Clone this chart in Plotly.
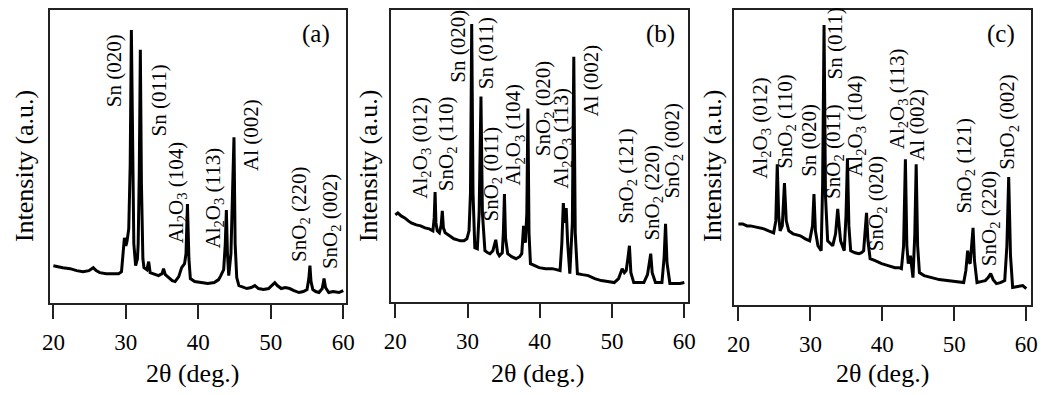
import plotly.graph_objects as go

# ---------------- data (2theta in deg., intensity in arbitrary units) ----------------
theta_a = [20.0, 20.6, 21.3, 22.3, 23.2, 24.1, 24.9, 25.5, 25.9, 26.4, 27.3, 28.2, 29.0, 29.4, 29.65,
           29.8, 30.0, 30.15, 30.4, 30.6, 30.76, 30.92, 31.1, 31.35, 31.6, 31.7, 31.85, 32.0, 32.15,
           32.35, 32.5, 32.9, 33.15, 33.35, 33.8, 34.5, 35.0, 35.2, 35.45, 35.9, 36.4, 36.8, 37.3,
           37.7, 38.1, 38.3, 38.5, 38.7, 38.9, 39.5, 40.4, 41.3, 42.2, 42.8, 43.1, 43.5, 43.72, 43.87,
           44.02, 44.2, 44.5, 44.75, 44.92, 45.08, 45.3, 45.6, 46.2, 46.7, 47.3, 47.8, 48.3, 49.0,
           49.7, 50.3, 50.55, 50.9, 51.45, 52.0, 52.6, 53.2, 53.9, 54.5, 55.0, 55.25, 55.4, 55.55,
           55.8, 56.2, 56.65, 57.1, 57.35, 57.55, 58.0, 58.6, 59.4, 60.0]
int_a = [38, 37, 36, 35, 33, 32, 33, 36, 33, 31, 30, 30, 30, 32, 50,
         66, 58, 62, 75, 140, 275, 140, 60, 38, 45, 60, 130, 255, 120,
         45, 36, 34, 42, 31, 30, 28, 30, 35, 29, 26, 23, 22, 27,
         36, 40, 50, 100, 45, 25, 22, 21, 20, 21, 24, 28, 34, 60, 94,
         50, 28, 50, 120, 167, 60, 26, 18, 16, 15, 16, 18, 15, 14,
         15, 19, 21, 18, 15, 16, 15, 13, 11, 12, 14, 25, 38, 22,
         14, 12, 11, 15, 25, 16, 11, 12, 11, 13]

theta_b = [20.0, 20.35, 20.8, 21.3, 21.8, 22.2, 22.9, 23.5, 24.1, 24.7, 25.2, 25.38, 25.5, 25.62,
           25.8, 26.1, 26.35, 26.5, 26.65, 26.9, 27.5, 28.1, 28.6, 29.0, 29.5, 29.9, 30.2, 30.4,
           30.57, 30.75, 31.0, 31.35, 31.6, 31.85, 32.05, 32.4, 32.8, 33.1, 33.5, 33.9, 34.15, 34.4,
           34.8, 34.95, 35.1, 35.25, 35.55, 36.1, 36.7, 37.2, 37.5, 37.75, 38.0, 38.2, 38.35, 38.5,
           38.7, 39.3, 39.9, 40.8, 41.7, 42.3, 42.8, 43.05, 43.25, 43.45, 43.65, 43.85, 44.15,
           44.5, 44.7, 44.9, 45.2, 45.9, 46.7, 47.6, 48.5, 49.4, 50.3, 50.9, 51.4, 51.7, 51.95,
           52.2, 52.4, 52.6, 53.0, 53.7, 54.4, 54.9, 55.2, 55.35, 55.55, 56.0, 56.5, 56.9, 57.2,
           57.4, 57.6, 58.0, 58.7, 59.4, 60.0]
int_b = [88, 90, 87, 85, 82, 80, 78, 77, 75, 74, 72, 85, 111, 80,
         72, 70, 78, 92, 75, 70, 67, 64, 63, 62, 62, 64, 72, 110,
         280, 110, 55, 54, 90, 207, 90, 52, 50, 49, 52, 63, 50, 47,
         50, 70, 109, 65, 49, 46, 44, 46, 49, 77, 60, 90, 195, 70,
         39, 37, 35, 34, 34, 33, 32, 60, 100, 80, 95, 60, 29,
         80, 247, 70, 29, 28, 27, 24, 22, 21, 20, 24, 34, 30, 32,
         45, 57, 30, 20, 20, 20, 28, 45, 49, 30, 20, 20, 20, 45,
         79, 40, 19, 19, 19, 20]

theta_c = [20.0, 20.6, 21.2, 21.7, 22.3, 23.0, 23.55, 24.2, 24.9, 25.2, 25.4, 25.6, 25.8, 26.1,
           26.4, 26.65, 27.0, 27.6, 28.1, 28.6, 29.3, 29.9, 30.3, 30.5, 30.7, 31.05, 31.5, 31.7,
           31.9, 32.1, 32.4, 32.8, 33.1, 33.5, 33.8, 34.0, 34.2, 34.7, 34.95, 35.15, 35.35, 35.6,
           36.2, 36.75, 37.1, 37.4, 37.6, 37.8, 38.0, 38.3, 39.0, 39.9, 40.8, 41.75, 42.3, 42.65,
           42.95, 43.2, 43.4, 43.6, 43.9, 44.25, 44.5, 44.7, 44.9, 45.15, 45.8, 46.75, 47.9, 49.0,
           50.2, 51.3, 51.6, 51.85, 52.05, 52.2, 52.4, 52.6, 52.8, 53.15, 53.7, 54.3, 54.7, 55.05,
           55.4, 55.85, 56.4, 57.0, 57.3, 57.55, 57.8, 58.1, 58.8, 59.5, 60.0]
int_c = [82, 82, 80, 80, 79, 78, 77, 75, 73, 85, 142, 90, 75, 80,
         123, 85, 75, 72, 71, 70, 67, 65, 80, 112, 75, 60, 55, 120,
         282, 110, 65, 62, 60, 72, 97, 80, 65, 55, 90, 148, 80, 55,
         53, 52, 53, 55, 75, 93, 65, 47, 45, 42, 40, 38, 38, 37,
         60, 147, 60, 42, 50, 28, 70, 142, 60, 33, 30, 28, 26, 25,
         24, 23, 35, 55, 44, 42, 60, 78, 45, 23, 24, 25, 28, 32,
         26, 22, 23, 25, 60, 129, 50, 18, 19, 20, 17]

# peak labels: (text, 2theta of label centre, intensity at label start)
labels_a = [("Sn (020)", 28.4, 195), ("Sn (011)", 34.6, 166), ("Al<sub>2</sub>O<sub>3</sub> (104)", 37.0, 58),
            ("Al<sub>2</sub>O<sub>3</sub> (113)", 42.2, 53), ("Al (002)", 47.25, 131),
            ("SnO<sub>2</sub> (220)", 54.0, 40), ("SnO<sub>2</sub> (002)", 58.3, 33)]
labels_b = [("Al<sub>2</sub>O<sub>3</sub> (012)", 23.5, 102), ("SnO<sub>2</sub> (110)", 27.1, 110),
            ("Sn (020)", 28.75, 219), ("Sn (011)", 32.5, 212), ("SnO<sub>2</sub> (011)", 33.4, 79),
            ("Al<sub>2</sub>O<sub>3</sub> (104)", 36.5, 115), ("SnO<sub>2</sub> (020)", 40.5, 145),
            ("Al<sub>2</sub>O<sub>3</sub> (113)", 42.95, 112), ("Al (002)", 47.1, 185),
            ("SnO<sub>2</sub> (121)", 52.1, 77), ("SnO<sub>2</sub> (220)", 55.7, 60),
            ("SnO<sub>2</sub> (002)", 58.3, 102)]
labels_c = [("Al<sub>2</sub>O<sub>3</sub> (012)", 23.1, 125), ("SnO<sub>2</sub> (110)", 26.5, 135),
            ("Sn (020)", 29.7, 127), ("Sn (011)", 33.4, 225), ("SnO<sub>2</sub> (011)", 33.2, 105),
            ("Al<sub>2</sub>O<sub>3</sub> (104)", 36.3, 127), ("SnO<sub>2</sub> (020)", 39.25, 53),
            ("Al<sub>2</sub>O<sub>3</sub> (113)", 42.1, 155), ("Al (002)", 44.9, 143),
            ("SnO<sub>2</sub> (121)", 51.5, 90), ("SnO<sub>2</sub> (220)", 54.95, 38),
            ("SnO<sub>2</sub> (002)", 57.45, 135)]

panel_names = ["(a)", "(b)", "(c)"]
tick_vals = [20, 30, 40, 50, 60]
tick_text = ["20", "30", "40", "50", "60"]
x_title = "2θ (deg.)"
y_title = "Intensity (a.u.)"

# ---------------- layout ----------------
# the page body adds an 8 px offset; the figure is sized so that it fills the window
OFF = 8
W, H = 1053 - OFF, 395 - OFF
FONT = "Liberation Serif"


def fx(px):
    return (px - OFF) / W


def fy(py):
    return 1 - (py - OFF) / H


x_domains = [(fx(42), fx(343)), (fx(389), fx(691)), (fx(738), fx(1040))]
x_ranges = [(19.59, 60.41), (19.46, 60.54), (19.45, 60.68)]
bottoms = [303, 302, 305]
ytitle_x = [fx(15), fx(365), fx(715)]
xtitle_x = [fx(187), fx(538), fx(889)]
panel_label_pos = [(56.2, 271), (56.7, 270), (56.45, 273)]

series = [(theta_a, int_a, labels_a), (theta_b, int_b, labels_b), (theta_c, int_c, labels_c)]

fig = go.Figure()
annotations = []
for i, (tx, iy, labs) in enumerate(series):
    n = "" if i == 0 else str(i + 1)
    fig.add_trace(go.Scatter(x=tx, y=iy, mode="lines", xaxis="x" + n, yaxis="y" + n,
                             line=dict(color="black", width=3), showlegend=False,
                             hoverinfo="skip"))
    xa = dict(domain=list(x_domains[i]), range=list(x_ranges[i]), anchor="y" + n,
              showline=True, mirror=True, linecolor="#222", linewidth=1.5,
              ticks="outside", ticklen=14, tickwidth=1.5, tickcolor="#222",
              tickvals=tick_vals, ticktext=tick_text, ticklabelstandoff=3,
              tickfont=dict(family=FONT, size=23, color="black"),
              showgrid=False, zeroline=False)
    ya = dict(domain=[fy(bottoms[i]), 1.0], range=[0, bottoms[i] - OFF], anchor="x" + n,
              showline=True, mirror=True, linecolor="#222", linewidth=1.5,
              ticks="", showticklabels=False, showgrid=False, zeroline=False)
    fig.update_layout(**{"xaxis" + n: xa, "yaxis" + n: ya})
    for text, xv, yv in labs:
        annotations.append(dict(text=text, x=xv, y=yv, xref="x" + n, yref="y" + n,
                                textangle=-90, xanchor="center", yanchor="bottom",
                                showarrow=False, font=dict(family=FONT, size=21, color="black")))
    px, py = panel_label_pos[i]
    annotations.append(dict(text=panel_names[i], x=px, y=py, xref="x" + n, yref="y" + n,
                            xanchor="center", yanchor="middle", showarrow=False,
                            font=dict(family=FONT, size=25, color="black")))
    annotations.append(dict(text=x_title, x=xtitle_x[i], y=fy(373), xref="paper", yref="paper",
                            xanchor="center", yanchor="middle", showarrow=False,
                            font=dict(family=FONT, size=26, color="black")))
    annotations.append(dict(text=y_title, x=ytitle_x[i], y=fy(165), xref="paper", yref="paper",
                            textangle=-90, xanchor="center", yanchor="middle", showarrow=False,
                            font=dict(family=FONT, size=26, color="black")))

fig.update_layout(width=W, height=H, margin=dict(l=0, r=0, t=0, b=0),
                  paper_bgcolor="white", plot_bgcolor="white", annotations=annotations)
fig.write_html("out.html")
